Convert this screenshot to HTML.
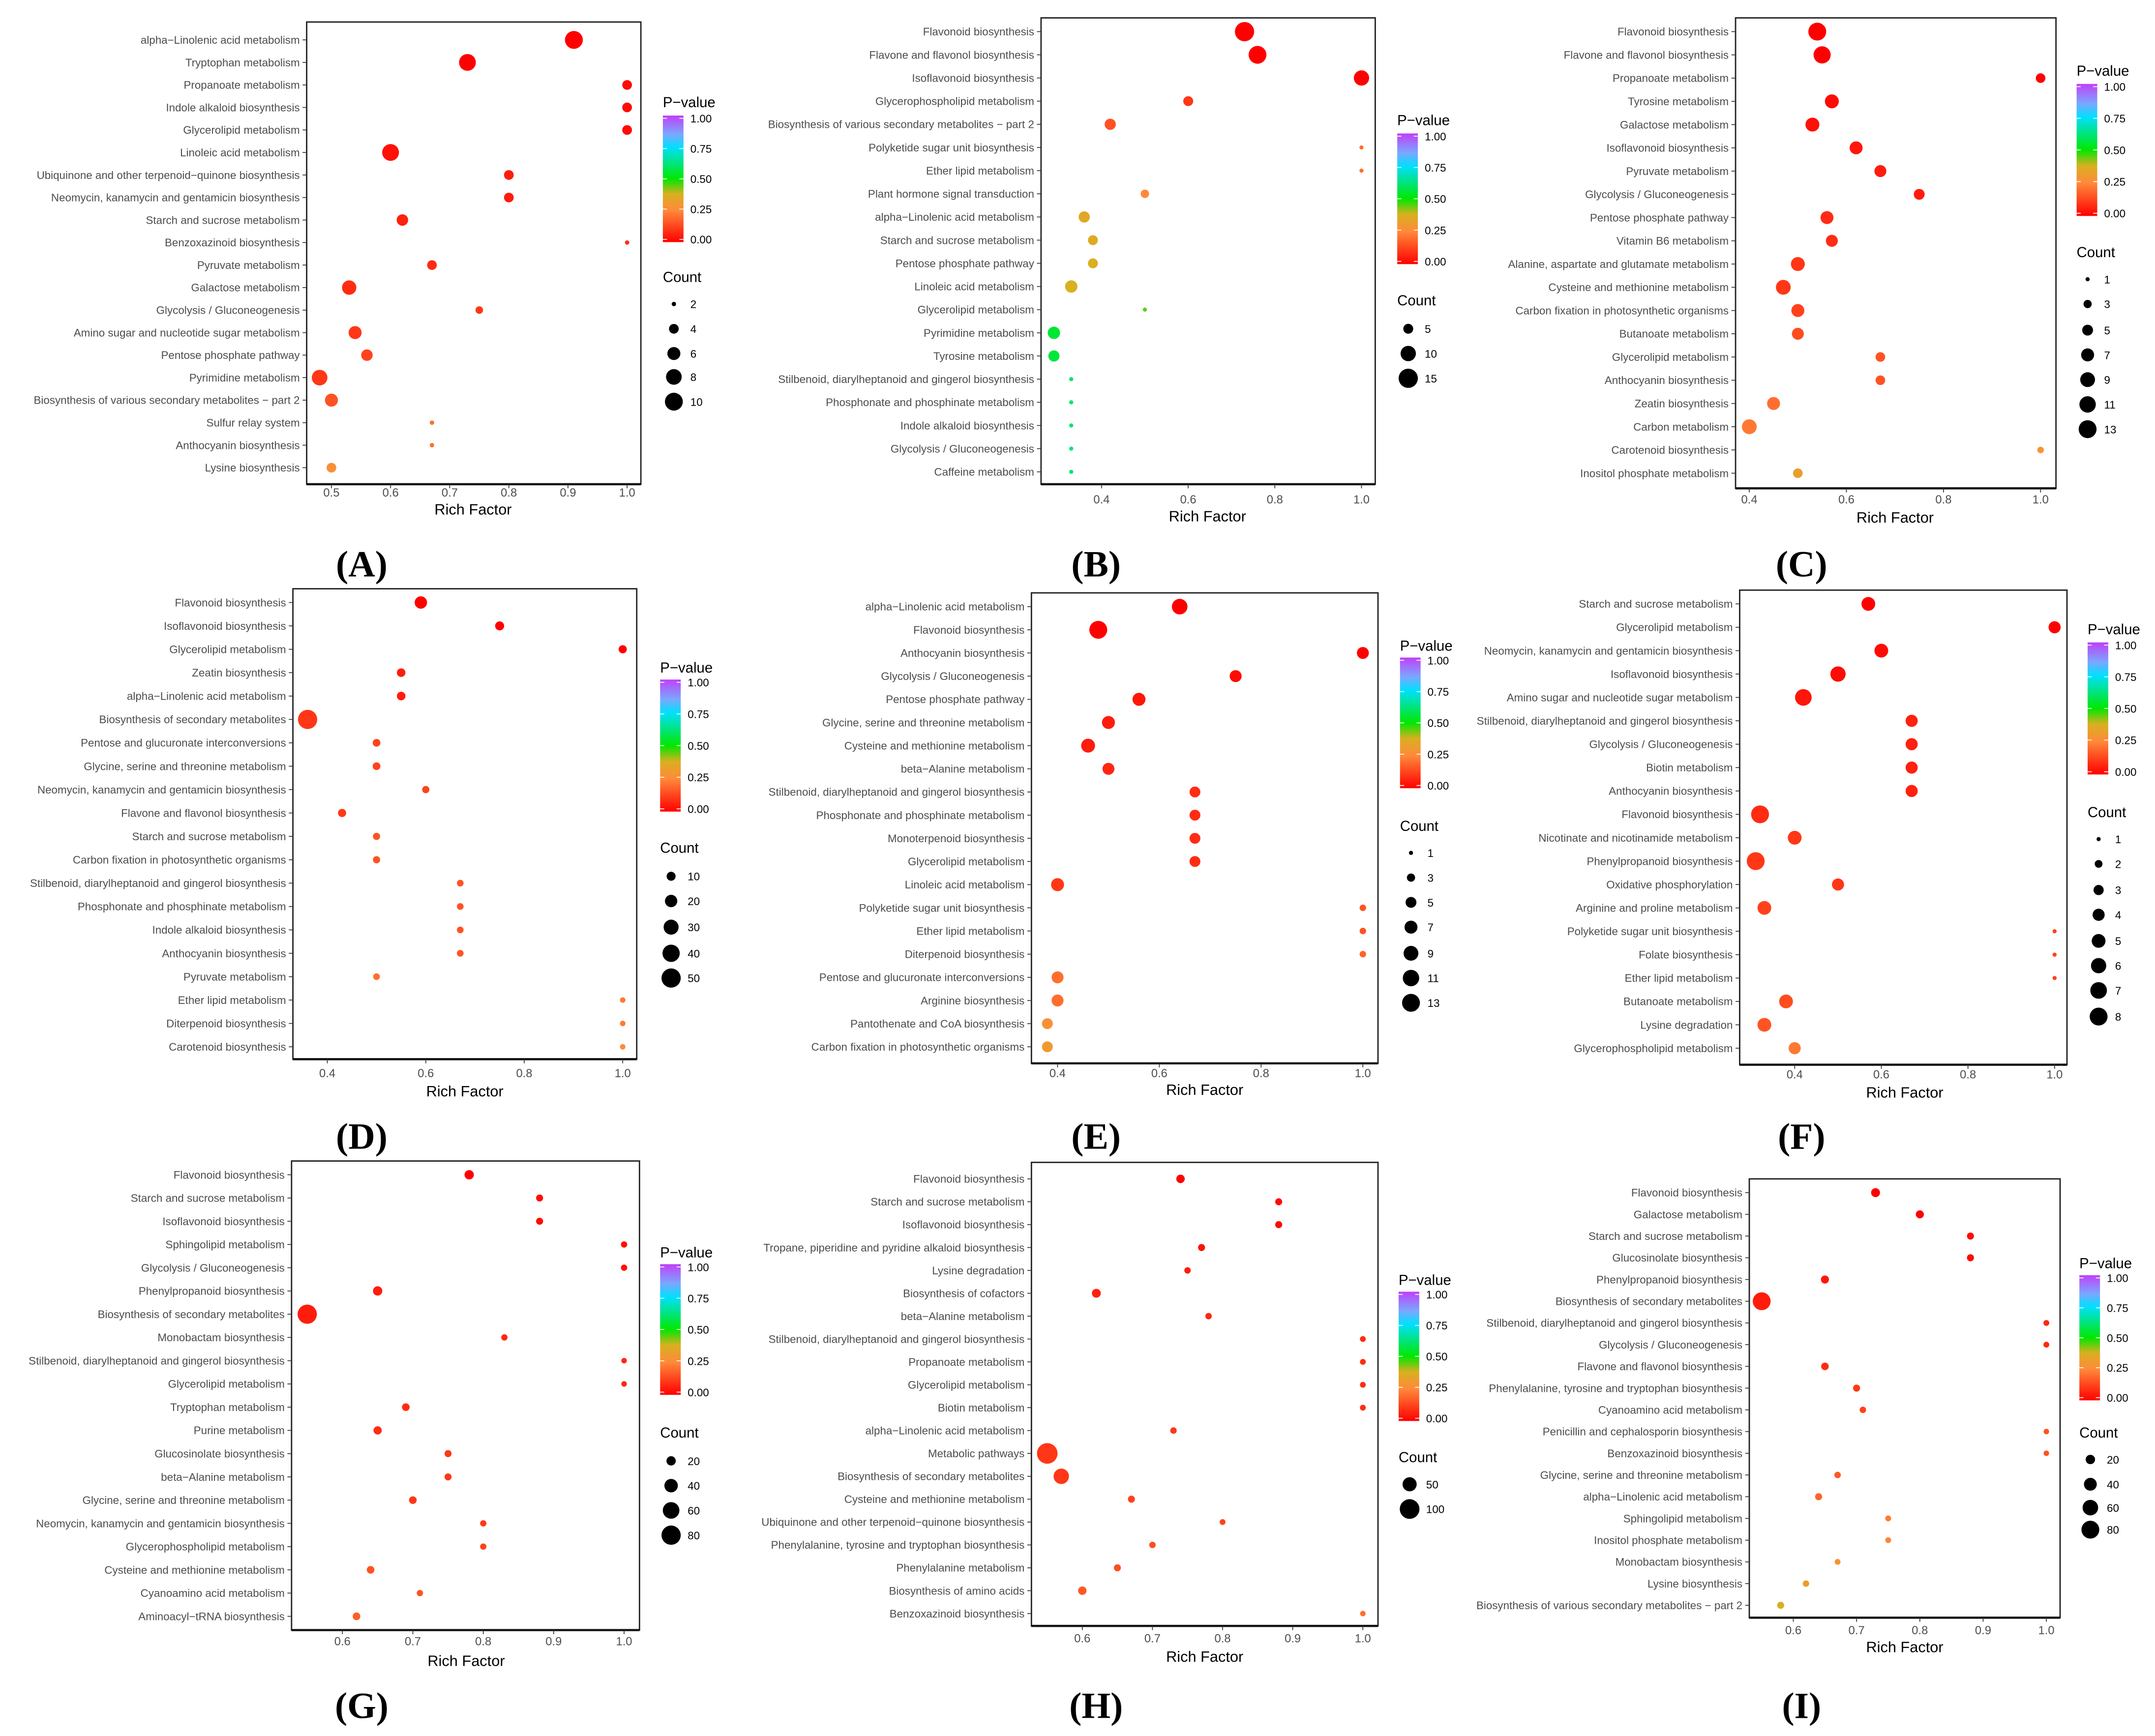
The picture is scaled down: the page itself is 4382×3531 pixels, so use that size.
<!DOCTYPE html>
<html><head><meta charset="utf-8"><style>
html,body{margin:0;padding:0;background:#fff;}
svg{display:block;}
text{font-family:"Liberation Sans",sans-serif;}
</style></head><body>
<svg id="fig" xmlns="http://www.w3.org/2000/svg" width="4382" height="3531" viewBox="0 0 1567 1262" preserveAspectRatio="none">
<defs>
<linearGradient id="pgrad" x1="0" y1="1" x2="0" y2="0">
<stop offset="0" stop-color="#ff0000"/><stop offset="0.25" stop-color="#ff8a3a"/><stop offset="0.38" stop-color="#d8b020"/><stop offset="0.5" stop-color="#00e800"/><stop offset="0.75" stop-color="#00e0ff"/><stop offset="0.85" stop-color="#7aa8ff"/><stop offset="1" stop-color="#c040f8"/>
</linearGradient>
</defs>
</svg>
<script>
// ---- Panel A ----
const catsA=["alpha\u2212Linolenic acid metabolism","Tryptophan metabolism","Propanoate metabolism","Indole alkaloid biosynthesis","Glycerolipid metabolism","Linoleic acid metabolism","Ubiquinone and other terpenoid\u2212quinone biosynthesis","Neomycin, kanamycin and gentamicin biosynthesis","Starch and sucrose metabolism","Benzoxazinoid biosynthesis","Pyruvate metabolism","Galactose metabolism","Glycolysis / Gluconeogenesis","Amino sugar and nucleotide sugar metabolism","Pentose phosphate pathway","Pyrimidine metabolism","Biosynthesis of various secondary metabolites \u2212 part 2","Sulfur relay system","Anthocyanin biosynthesis","Lysine biosynthesis"];
const richA=[0.91,0.73,1.0,1.0,1.0,0.6,0.8,0.8,0.62,1.0,0.67,0.53,0.75,0.54,0.56,0.48,0.5,0.67,0.67,0.5];
const countA=[10,9,4,4,4,9,4,4,5,2,4,7,3,6,5,8,6,2,2,4];
const pvalA=[0.0,0.0,0.02,0.02,0.02,0.03,0.05,0.05,0.06,0.08,0.08,0.08,0.1,0.1,0.12,0.1,0.15,0.2,0.2,0.27];
const ticksA=[0.5,0.6,0.7,0.8,0.9,1.0];
const legCountA=[2,4,6,8,10];
// ---- Panel B ----
const catsB=["Flavonoid biosynthesis","Flavone and flavonol biosynthesis","Isoflavonoid biosynthesis","Glycerophospholipid metabolism","Biosynthesis of various secondary metabolites \u2212 part 2","Polyketide sugar unit biosynthesis","Ether lipid metabolism","Plant hormone signal transduction","alpha\u2212Linolenic acid metabolism","Starch and sucrose metabolism","Pentose phosphate pathway","Linoleic acid metabolism","Glycerolipid metabolism","Pyrimidine metabolism","Tyrosine metabolism","Stilbenoid, diarylheptanoid and gingerol biosynthesis","Phosphonate and phosphinate metabolism","Indole alkaloid biosynthesis","Glycolysis / Gluconeogenesis","Caffeine metabolism"];
const richB=[0.73,0.76,1.0,0.6,0.42,1.0,1.0,0.5,0.36,0.38,0.38,0.33,0.5,0.29,0.29,0.33,0.33,0.33,0.33,0.33];
const countB=[15,13,10,5,6,2,2,4,6,5,5,7,2,7,6,2,2,2,2,2];
const pvalB=[0.0,0.0,0.0,0.1,0.15,0.2,0.2,0.25,0.35,0.36,0.38,0.38,0.45,0.55,0.56,0.6,0.6,0.6,0.62,0.62];
const ticksB=[0.4,0.6,0.8,1.0];
const legCountB=[5,10,15];
// ---- Panel C ----
const catsC=["Flavonoid biosynthesis","Flavone and flavonol biosynthesis","Propanoate metabolism","Tyrosine metabolism","Galactose metabolism","Isoflavonoid biosynthesis","Pyruvate metabolism","Glycolysis / Gluconeogenesis","Pentose phosphate pathway","Vitamin B6 metabolism","Alanine, aspartate and glutamate metabolism","Cysteine and methionine metabolism","Carbon fixation in photosynthetic organisms","Butanoate metabolism","Glycerolipid metabolism","Anthocyanin biosynthesis","Zeatin biosynthesis","Carbon metabolism","Carotenoid biosynthesis","Inositol phosphate metabolism"];
const richC=[0.54,0.55,1.0,0.57,0.53,0.62,0.67,0.75,0.56,0.57,0.5,0.47,0.5,0.5,0.67,0.67,0.45,0.4,1.0,0.5];
const countC=[13,12,4,8,8,7,6,5,7,6,8,9,7,6,4,4,7,9,2,4];
const pvalC=[0.0,0.0,0.0,0.02,0.03,0.04,0.05,0.05,0.08,0.08,0.1,0.1,0.12,0.14,0.15,0.15,0.2,0.22,0.28,0.32];
const ticksC=[0.4,0.6,0.8,1.0];
const legCountC=[1,3,5,7,9,11,13];
// ---- Panel D ----
const catsD=["Flavonoid biosynthesis","Isoflavonoid biosynthesis","Glycerolipid metabolism","Zeatin biosynthesis","alpha\u2212Linolenic acid metabolism","Biosynthesis of secondary metabolites","Pentose and glucuronate interconversions","Glycine, serine and threonine metabolism","Neomycin, kanamycin and gentamicin biosynthesis","Flavone and flavonol biosynthesis","Starch and sucrose metabolism","Carbon fixation in photosynthetic organisms","Stilbenoid, diarylheptanoid and gingerol biosynthesis","Phosphonate and phosphinate metabolism","Indole alkaloid biosynthesis","Anthocyanin biosynthesis","Pyruvate metabolism","Ether lipid metabolism","Diterpenoid biosynthesis","Carotenoid biosynthesis"];
const richD=[0.59,0.75,1.0,0.55,0.55,0.36,0.5,0.5,0.6,0.43,0.5,0.5,0.67,0.67,0.67,0.67,0.5,1.0,1.0,1.0];
const countD=[20,10,8,9,9,50,7,7,6,8,6,6,5,5,5,5,5,3,3,3];
const pvalD=[0.0,0.0,0.0,0.05,0.05,0.1,0.12,0.12,0.12,0.1,0.15,0.15,0.15,0.15,0.15,0.15,0.2,0.22,0.22,0.25];
const ticksD=[0.4,0.6,0.8,1.0];
const legCountD=[10,20,30,40,50];
// ---- Panel E ----
const catsE=["alpha\u2212Linolenic acid metabolism","Flavonoid biosynthesis","Anthocyanin biosynthesis","Glycolysis / Gluconeogenesis","Pentose phosphate pathway","Glycine, serine and threonine metabolism","Cysteine and methionine metabolism","beta\u2212Alanine metabolism","Stilbenoid, diarylheptanoid and gingerol biosynthesis","Phosphonate and phosphinate metabolism","Monoterpenoid biosynthesis","Glycerolipid metabolism","Linoleic acid metabolism","Polyketide sugar unit biosynthesis","Ether lipid metabolism","Diterpenoid biosynthesis","Pentose and glucuronate interconversions","Arginine biosynthesis","Pantothenate and CoA biosynthesis","Carbon fixation in photosynthetic organisms"];
const richE=[0.64,0.48,1.0,0.75,0.56,0.5,0.46,0.5,0.67,0.67,0.67,0.67,0.4,1.0,1.0,1.0,0.4,0.4,0.38,0.38];
const countE=[10,13,6,6,7,7,8,6,5,5,5,5,7,2,2,2,6,6,5,5];
const pvalE=[0.0,0.0,0.0,0.02,0.04,0.05,0.05,0.07,0.08,0.08,0.08,0.08,0.1,0.15,0.15,0.18,0.2,0.2,0.27,0.3];
const ticksE=[0.4,0.6,0.8,1.0];
const legCountE=[1,3,5,7,9,11,13];
// ---- Panel F ----
const catsF=["Starch and sucrose metabolism","Glycerolipid metabolism","Neomycin, kanamycin and gentamicin biosynthesis","Isoflavonoid biosynthesis","Amino sugar and nucleotide sugar metabolism","Stilbenoid, diarylheptanoid and gingerol biosynthesis","Glycolysis / Gluconeogenesis","Biotin metabolism","Anthocyanin biosynthesis","Flavonoid biosynthesis","Nicotinate and nicotinamide metabolism","Phenylpropanoid biosynthesis","Oxidative phosphorylation","Arginine and proline metabolism","Polyketide sugar unit biosynthesis","Folate biosynthesis","Ether lipid metabolism","Butanoate metabolism","Lysine degradation","Glycerophospholipid metabolism"];
const richF=[0.57,1.0,0.6,0.5,0.42,0.67,0.67,0.67,0.67,0.32,0.4,0.31,0.5,0.33,1.0,1.0,1.0,0.38,0.33,0.4];
const countF=[5,4,5,6,7,4,4,4,4,8,5,8,4,5,1,1,1,5,5,4];
const pvalF=[0.0,0.0,0.02,0.02,0.04,0.06,0.06,0.06,0.06,0.08,0.1,0.1,0.1,0.12,0.12,0.12,0.12,0.14,0.15,0.22];
const ticksF=[0.4,0.6,0.8,1.0];
const legCountF=[1,2,3,4,5,6,7,8];
// ---- Panel G ----
const catsG=["Flavonoid biosynthesis","Starch and sucrose metabolism","Isoflavonoid biosynthesis","Sphingolipid metabolism","Glycolysis / Gluconeogenesis","Phenylpropanoid biosynthesis","Biosynthesis of secondary metabolites","Monobactam biosynthesis","Stilbenoid, diarylheptanoid and gingerol biosynthesis","Glycerolipid metabolism","Tryptophan metabolism","Purine metabolism","Glucosinolate biosynthesis","beta\u2212Alanine metabolism","Glycine, serine and threonine metabolism","Neomycin, kanamycin and gentamicin biosynthesis","Glycerophospholipid metabolism","Cysteine and methionine metabolism","Cyanoamino acid metabolism","Aminoacyl\u2212tRNA biosynthesis"];
const richG=[0.78,0.88,0.88,1.0,1.0,0.65,0.55,0.83,1.0,1.0,0.69,0.65,0.75,0.75,0.7,0.8,0.8,0.64,0.71,0.62];
const countG=[20,12,12,10,10,20,80,10,8,8,14,16,12,12,14,10,10,14,10,14];
const pvalG=[0.0,0.02,0.02,0.03,0.03,0.05,0.05,0.07,0.07,0.07,0.08,0.08,0.1,0.1,0.1,0.1,0.12,0.15,0.15,0.17];
const ticksG=[0.6,0.7,0.8,0.9,1.0];
const legCountG=[20,40,60,80];
// ---- Panel H ----
const catsH=["Flavonoid biosynthesis","Starch and sucrose metabolism","Isoflavonoid biosynthesis","Tropane, piperidine and pyridine alkaloid biosynthesis","Lysine degradation","Biosynthesis of cofactors","beta\u2212Alanine metabolism","Stilbenoid, diarylheptanoid and gingerol biosynthesis","Propanoate metabolism","Glycerolipid metabolism","Biotin metabolism","alpha\u2212Linolenic acid metabolism","Metabolic pathways","Biosynthesis of secondary metabolites","Cysteine and methionine metabolism","Ubiquinone and other terpenoid\u2212quinone biosynthesis","Phenylalanine, tyrosine and tryptophan biosynthesis","Phenylalanine metabolism","Biosynthesis of amino acids","Benzoxazinoid biosynthesis"];
const richH=[0.74,0.88,0.88,0.77,0.75,0.62,0.78,1.0,1.0,1.0,1.0,0.73,0.55,0.57,0.67,0.8,0.7,0.65,0.6,1.0];
const countH=[16,10,10,10,8,18,8,6,6,6,6,8,110,60,10,6,8,10,16,5];
const pvalH=[0.0,0.02,0.02,0.03,0.05,0.06,0.07,0.08,0.08,0.08,0.08,0.1,0.1,0.1,0.12,0.12,0.14,0.14,0.16,0.2];
const ticksH=[0.6,0.7,0.8,0.9,1.0];
const legCountH=[50,100];
// ---- Panel I ----
const catsI=["Flavonoid biosynthesis","Galactose metabolism","Starch and sucrose metabolism","Glucosinolate biosynthesis","Phenylpropanoid biosynthesis","Biosynthesis of secondary metabolites","Stilbenoid, diarylheptanoid and gingerol biosynthesis","Glycolysis / Gluconeogenesis","Flavone and flavonol biosynthesis","Phenylalanine, tyrosine and tryptophan biosynthesis","Cyanoamino acid metabolism","Penicillin and cephalosporin biosynthesis","Benzoxazinoid biosynthesis","Glycine, serine and threonine metabolism","alpha\u2212Linolenic acid metabolism","Sphingolipid metabolism","Inositol phosphate metabolism","Monobactam biosynthesis","Lysine biosynthesis","Biosynthesis of various secondary metabolites \u2212 part 2"];
const richI=[0.73,0.8,0.88,0.88,0.65,0.55,1.0,1.0,0.65,0.7,0.71,1.0,1.0,0.67,0.64,0.75,0.75,0.67,0.62,0.58];
const countI=[18,14,10,10,14,80,6,6,12,10,8,5,5,8,10,6,6,6,8,10];
const pvalI=[0.0,0.0,0.02,0.02,0.04,0.05,0.07,0.07,0.08,0.1,0.12,0.15,0.15,0.16,0.18,0.22,0.24,0.28,0.32,0.38];
const ticksI=[0.6,0.7,0.8,0.9,1.0];
const legCountI=[20,40,60,80];

const NS="http://www.w3.org/2000/svg";
const svg=document.getElementById('fig');
function mk(tag,attrs,parent,txt){const e=document.createElementNS(NS,tag);for(const k in attrs)e.setAttribute(k,attrs[k]);if(txt!==undefined)e.textContent=txt;(parent||svg).appendChild(e);return e;}
const stops=[[0,[255,0,0]],[0.25,[255,138,58]],[0.38,[216,176,32]],[0.5,[0,232,0]],[0.75,[0,224,255]],[0.85,[122,168,255]],[1,[192,64,248]]];
function pColor(p){p=Math.max(0,Math.min(1,p));for(let i=1;i<stops.length;i++){if(p<=stops[i][0]){const a=stops[i-1],b=stops[i];const t=(p-a[0])/(b[0]-a[0]);const c=a[1].map((v,j)=>Math.round(v+(b[1][j]-v)*t));return `rgb(${c[0]},${c[1]},${c[2]})`;}}return 'rgb(192,64,248)';}

function panel(cfg,cats,rich,counts,pvals,ticks,legCounts){
  const g=mk('g',{});
  
  
  const xs=v=>cfg.x0px+(v-cfg.x0v)*cfg.ppu;
  const ys=i=>cfg.yFirst+(cfg.yLast-cfg.yFirst)*i/(cats.length-1);
  const cmin=Math.min(...legCounts.concat(counts)),cmax=Math.max(...legCounts.concat(counts));
  const rs=c=>{const t=(c-cmin)/(cmax-cmin);return Math.sqrt(cfg.rmin*cfg.rmin+(cfg.rmax*cfg.rmax-cfg.rmin*cfg.rmin)*t);};
  const box=mk('rect',{x:cfg.left,y:cfg.top,width:cfg.right-cfg.left,height:cfg.bottom-cfg.top,fill:'#fff',stroke:'#222','stroke-width':1},g);
  
  
  mk('line',{x1:cfg.left,x2:cfg.right,y1:cfg.bottom,y2:cfg.bottom,stroke:'#111','stroke-width':1.6},g);
  cats.forEach((c,i)=>{
    const y=ys(i);
    mk('line',{x1:cfg.left-3,x2:cfg.left,y1:y,y2:y,stroke:'#333','stroke-width':0.6},g);
    const t=mk('text',{x:cfg.left-5,y:y+2.8,'font-size':8,fill:'#4d4d4d','text-anchor':'end'},g,c);
    
    
  });
  ticks.forEach(v=>{
    const x=xs(v);
    mk('line',{x1:x,x2:x,y1:cfg.bottom,y2:cfg.bottom+3,stroke:'#333','stroke-width':0.6},g);
    const t=mk('text',{x:x,y:cfg.tickY,'font-size':8.5,fill:'#4d4d4d','text-anchor':'middle'},g,v.toFixed(1));
    
    
  });
  const xt=mk('text',{x:cfg.titleX,y:cfg.titleY,'font-size':11,fill:'#000','text-anchor':'middle'},g,'Rich Factor');
  
  
  cats.forEach((c,i)=>{
    const d=mk('circle',{cx:xs(rich[i]),cy:ys(i),r:rs(counts[i]),fill:pColor(pvals[i])},g);
    
    
  });
  // legend
  const L=cfg.legX;
  const pt=mk('text',{x:L,y:cfg.pTitleY,'font-size':10.5,fill:'#000'},g,'P\u2212value');
  
  
  const bar=mk('rect',{x:L,y:cfg.barTop,width:15,height:cfg.barBot-cfg.barTop,fill:'url(#pgrad)'},g);
  
  
  ['1.00','0.75','0.50','0.25','0.00'].forEach((s,k)=>{
    const y=cfg.barTop+2+(cfg.barBot-cfg.barTop-4)*k/4;
    mk('line',{x1:L,x2:L+3,y1:y,y2:y,stroke:'#fff','stroke-width':0.6},g);
    mk('line',{x1:L+12,x2:L+15,y1:y,y2:y,stroke:'#fff','stroke-width':0.6},g);
    const t=mk('text',{x:L+20,y:y+3,'font-size':8,fill:'#000'},g,s);
    
    
  });
  const ct=mk('text',{x:L,y:cfg.cTitleY,'font-size':10.5,fill:'#000'},g,'Count');
  
  
  legCounts.forEach((c,k)=>{
    const y=cfg.cYs[k];
    const d=mk('circle',{cx:L+8,cy:y,r:rs(c),fill:'#000'},g);
    
    
    mk('text',{x:L+20,y:y+3,'font-size':8,fill:'#000'},g,String(c));
  });
  const lab=mk('text',{x:cfg.labX,y:cfg.labY,'font-size':27,'font-weight':'bold','text-anchor':'middle',fill:'#000',style:'font-family:"Liberation Serif",serif'},g,'('+cfg.id+')');
  
  
}

panel({id:'A',left:223,right:466,top:16,bottom:352,yFirst:29,yLast:340,x0v:0.5,x0px:241,ppu:430,tickY:361,titleX:344,titleY:374,legX:482,pTitleY:78,barTop:84,barBot:176,cTitleY:205,cYs:[221,239,257,274,292],rmin:1.6,rmax:6.5,labX:263,labY:419},catsA,richA,countA,pvalA,ticksA,legCountA);
panel({id:'B',left:757,right:1000,top:13,bottom:352,yFirst:23,yLast:343,x0v:0.4,x0px:801,ppu:315,tickY:366,titleX:878,titleY:379,legX:1016,pTitleY:91,barTop:97,barBot:192,cTitleY:222,cYs:[239,257,275],rmin:1.5,rmax:7,labX:797,labY:419},catsB,richB,countB,pvalB,ticksB,legCountB);
panel({id:'C',left:1262,right:1495,top:13,bottom:355,yFirst:23,yLast:344,x0v:0.4,x0px:1272,ppu:353,tickY:366,titleX:1378,titleY:380,legX:1510,pTitleY:55,barTop:61,barBot:157,cTitleY:187,cYs:[203,221,240,258,276,294,312],rmin:1.5,rmax:6.5,labX:1310,labY:419},catsC,richC,countC,pvalC,ticksC,legCountC);
panel({id:'D',left:213,right:463,top:428,bottom:770,yFirst:438,yLast:761,x0v:0.4,x0px:238,ppu:358,tickY:783,titleX:338,titleY:797,legX:480,pTitleY:489,barTop:494,barBot:590,cTitleY:620,cYs:[637,655,674,693,711],rmin:2,rmax:7,labX:263,labY:835},catsD,richD,countD,pvalD,ticksD,legCountD);
panel({id:'E',left:750,right:1002,top:431,bottom:773,yFirst:441,yLast:761,x0v:0.4,x0px:769,ppu:370,tickY:783,titleX:876,titleY:796,legX:1018,pTitleY:473,barTop:478,barBot:573,cTitleY:604,cYs:[620,638,656,674,693,711,729],rmin:1.5,rmax:6.5,labX:797,labY:835},catsE,richE,countE,pvalE,ticksE,legCountE);
panel({id:'F',left:1265,right:1503,top:429,bottom:774,yFirst:439,yLast:762,x0v:0.4,x0px:1305,ppu:315,tickY:784,titleX:1385,titleY:798,legX:1518,pTitleY:461,barTop:467,barBot:563,cTitleY:594,cYs:[610,628,647,665,684,702,720,739],rmin:1.5,rmax:6.5,labX:1310,labY:835},catsF,richF,countF,pvalF,ticksF,legCountF);
panel({id:'G',left:212,right:465,top:844,bottom:1185,yFirst:854,yLast:1175,x0v:0.6,x0px:249,ppu:512,tickY:1196,titleX:339,titleY:1211,legX:480,pTitleY:914,barTop:919,barBot:1014,cTitleY:1045,cYs:[1062,1080,1098,1116],rmin:2,rmax:7,labX:263,labY:1249},catsG,richG,countG,pvalG,ticksG,legCountG);
panel({id:'H',left:750,right:1002,top:845,bottom:1182,yFirst:857,yLast:1173,x0v:0.6,x0px:787,ppu:510,tickY:1194,titleX:876,titleY:1208,legX:1017,pTitleY:934,barTop:939,barBot:1033,cTitleY:1063,cYs:[1079,1097],rmin:2,rmax:7.5,labX:797,labY:1249},catsH,richH,countH,pvalH,ticksH,legCountH);
panel({id:'I',left:1272,right:1498,top:857,bottom:1176,yFirst:867,yLast:1167,x0v:0.6,x0px:1304,ppu:460,tickY:1188,titleX:1385,titleY:1201,legX:1512,pTitleY:922,barTop:927,barBot:1018,cTitleY:1045,cYs:[1061,1079,1096,1112],rmin:2,rmax:6.5,labX:1310,labY:1249},catsI,richI,countI,pvalI,ticksI,legCountI);
</script>
</body></html>
